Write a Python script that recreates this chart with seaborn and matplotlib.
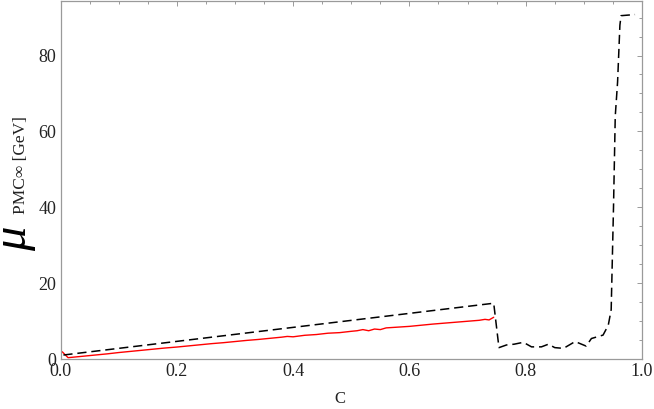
import numpy as np
import pandas as pd
import seaborn as sns
import matplotlib
matplotlib.use("Agg")
import matplotlib.pyplot as plt
from matplotlib.ticker import MultipleLocator

# ---- data ----
red_c = [0.003, 0.013, 0.02, 0.04, 0.06, 0.08, 0.10, 0.12, 0.14, 0.16, 0.18, 0.20,
         0.22, 0.24, 0.26, 0.28, 0.30, 0.32, 0.34, 0.36, 0.38, 0.39, 0.40, 0.42,
         0.44, 0.46, 0.48, 0.50, 0.51, 0.52, 0.53, 0.54, 0.55, 0.56, 0.58, 0.60,
         0.62, 0.64, 0.66, 0.68, 0.70, 0.72, 0.73, 0.737, 0.745]
red_mu = [1.9, 0.35, 0.45, 0.75, 1.05, 1.35, 1.7, 2.0, 2.3, 2.6, 2.9, 3.15,
          3.45, 3.75, 4.05, 4.3, 4.6, 4.9, 5.15, 5.45, 5.75, 5.95, 5.85, 6.25,
          6.45, 6.8, 6.95, 7.3, 7.45, 7.75, 7.45, 7.9, 7.75, 8.2, 8.4, 8.6,
          8.9, 9.2, 9.45, 9.7, 9.95, 10.2, 10.45, 10.3, 11.0]

black_c = [0.005, 0.745, 0.754, 0.767, 0.78, 0.796, 0.81, 0.827, 0.839, 0.85,
           0.865, 0.885, 0.904, 0.913, 0.933, 0.942, 0.947, 0.951, 0.954, 0.958,
           0.962, 0.964, 0.988]
black_mu = [1.05, 14.7, 3.0, 3.7, 3.9, 4.4, 3.2, 3.2, 3.9, 3.0,
            2.8, 4.6, 3.4, 5.4, 6.3, 8.9, 13.0, 40.0, 64.0, 73.0,
            88.0, 90.5, 90.8]

x_ticks = [0.0, 0.2, 0.4, 0.6, 0.8, 1.0]
y_ticks = [0, 20, 40, 60, 80]

sns.set_theme(style="white")
plt.rcParams['font.family'] = ['Liberation Serif', 'DejaVu Serif']
plt.rcParams['mathtext.fontset'] = 'stix'

fig = plt.figure(figsize=(6.54, 4.09), dpi=100)
ax = fig.add_axes([60.5 / 654, 50 / 409, (642 - 60.5) / 654, 358.5 / 409])

df_red = pd.DataFrame({"C": red_c, "mu": red_mu})
df_black = pd.DataFrame({"C": black_c, "mu": black_mu})

sns.lineplot(data=df_red, x="C", y="mu", color="#ff0000", lw=1.0,
             estimator=None, sort=False, ax=ax)
sns.lineplot(data=df_black, x="C", y="mu", color="black", lw=1.1,
             estimator=None, sort=False, ax=ax, linestyle=(0, (6, 3.2)))

ax.set_xlim(0, 1.0)
ax.set_ylim(0, 94.5)
ax.set_xticks(x_ticks)
ax.set_xticklabels([f"{v:.1f}" for v in x_ticks])
ax.set_yticks(y_ticks)
ax.set_yticklabels([str(v) for v in y_ticks])
ax.xaxis.set_minor_locator(MultipleLocator(0.05))
ax.yaxis.set_minor_locator(MultipleLocator(5))

frame_col = "#9a9a9a"
for s in ax.spines.values():
    s.set_color(frame_col)
    s.set_linewidth(0.9)
ax.tick_params(which="both", direction="in", top=True, right=True,
               color=frame_col, width=0.7, labelsize=13, labelcolor="#222222")
ax.tick_params(which="major", length=3.8, pad=3)
ax.tick_params(which="minor", length=2.2)
ax.grid(False)
ax.set_xlabel("")
ax.set_ylabel("")

# axis labels
fig.text(340 / 654, 1 - 399 / 409, "C", ha="center", va="center",
         fontsize=12, color="#222222")
fig.text(26 / 654, 1 - 251 / 409, "\u03bc", rotation=90, rotation_mode="anchor",
         ha="left", va="baseline", fontsize=35, style="italic", color="black")
fig.text(25 / 654, 1 - 214 / 409, "PMC\u221e [GeV]", rotation=90,
         rotation_mode="anchor", ha="left", va="baseline", fontsize=12.5,
         color="#222222")

fig.savefig("out.png", dpi=100)
